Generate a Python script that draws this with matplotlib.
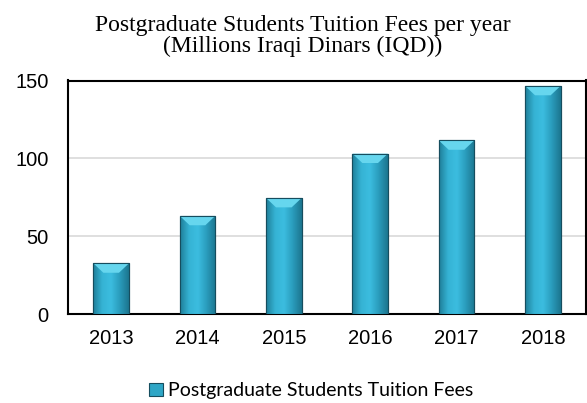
import matplotlib.pyplot as plt
import numpy as np
from matplotlib.patches import Polygon
from matplotlib.colors import LinearSegmentedColormap

years = ['2013', '2014', '2015', '2016', '2017', '2018']
fees = [32.5, 63, 74.5, 103, 111.5, 146.5]
series_name = 'Postgraduate Students Tuition Fees'

fig = plt.figure(figsize=(5.87, 4.03), dpi=100)
ax = fig.add_axes([68 / 587, 1 - 314 / 403, 518 / 587, 233.5 / 403])

x = np.arange(len(years))
bars = ax.bar(x, fees, 0.41, color='#2ea6c6', edgecolor='#164d5e',
              linewidth=0.8, zorder=3, label=series_name)

# horizontal shading across each bar, plus a lighter bevel on top
shade = LinearSegmentedColormap.from_list(
    'shade', ['#1f7f99', '#35b3d4', '#3cbde0', '#2a9cbc', '#1c7690'])
grad = np.linspace(0, 1, 64).reshape(1, -1)
for b in bars:
    x0, w, h = b.get_x(), b.get_width(), b.get_height()
    im = ax.imshow(grad, cmap=shade, extent=[x0, x0 + w, 0, h],
                   aspect='auto', zorder=3.5, interpolation='bicubic')
    im.set_clip_path(b)
    dx = w * 0.28
    dy = 6
    top = Polygon([[x0, h], [x0 + w, h], [x0 + w - dx, h - dy], [x0 + dx, h - dy]],
                  closed=True, facecolor='#66d6ee', edgecolor='none', zorder=4)
    ax.add_patch(top)
    ax.add_patch(Polygon([[x0, 0], [x0, h], [x0 + w, h], [x0 + w, 0]], closed=True,
                         facecolor='none', edgecolor='#164d5e', linewidth=0.8, zorder=5))

ax.set_xlim(-0.5, len(years) - 0.5)
ax.set_ylim(0, 150)
ax.set_yticks([0, 50, 100, 150])
ax.set_xticks(x)
ax.set_xticklabels(years)
ax.tick_params(axis='x', length=0, labelsize=14.5, pad=11)
ax.tick_params(axis='y', length=0, labelsize=14.5, pad=14)
for lbl in ax.get_xticklabels() + ax.get_yticklabels():
    lbl.set_fontfamily('Liberation Sans')
ax.grid(axis='y', color='#d9d9d9', linewidth=1.2, zorder=0)
for s in ax.spines.values():
    s.set_linewidth(1.5)
    s.set_color('black')

fig.text(0.516, 0.91, 'Postgraduate Students Tuition Fees per year\n(Millions Iraqi Dinars (IQD))',
         ha='center', va='center', fontsize=17, family='Liberation Serif', linespacing=1.0)

fig.legend(loc='center', bbox_to_anchor=(0.53, 0.03), frameon=False,
           prop={'family': 'Lato', 'size': 14}, handlelength=0.7, handleheight=0.7,
           handletextpad=0.25)

fig.savefig('out.png', dpi=100)
